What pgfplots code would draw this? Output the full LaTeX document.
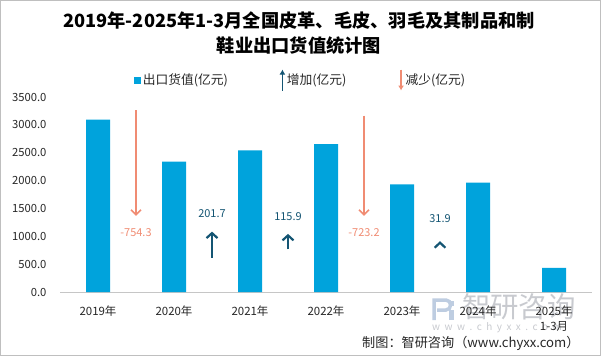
\documentclass[border=0pt]{standalone}
\usepackage{pgfplots}
\pgfplotsset{compat=1.18}
\usepackage{fontspec}
\setmainfont{Noto Sans CJK SC}
\usetikzlibrary{arrows.meta}
\definecolor{barblue}{RGB}{0,163,220}
\definecolor{upc}{RGB}{20,85,115}
\definecolor{downc}{RGB}{240,140,115}
\definecolor{wm}{RGB}{200,202,207}
\definecolor{wmlogo}{RGB}{190,205,225}
\begin{document}
\begin{tikzpicture}[x=1bp,y=1bp]
\useasboundingbox (0,0) rectangle (601,356);
\draw[gray!50, line width=1bp] (0.5,0.5) rectangle (600.5,355.5);
% watermark
\draw[wmlogo, line width=3.5bp] (434,36) -- (434,56) -- (446,56) .. controls (452,56) and (452,46) .. (446,46) -- (437,46);
\fill[wmlogo] (449,36) rectangle (454,46);
\fill[wmlogo] (449,50) rectangle (454,55);
\node[text=wm, font=\fontsize{28.5}{28}\selectfont, anchor=west, inner sep=0pt] at (462,49) {智研咨询};
\node[text=wm, font=\fontsize{10}{10}\selectfont, anchor=west, inner sep=0pt] at (432,28) {w\ \ w\ \ w\ \ .\ \ c\ \ h\ \ y\ \ x\ \ x\ \ .\ \ c\ \ o\ \ m};
% title
\node[align=center, font=\bfseries\fontsize{18.3}{25}\selectfont] at (299,323) {2019年-2025年1-3月全国皮革、毛皮、羽毛及其制品和制\\鞋业出口货值统计图};
% footer
\node[anchor=east, font=\fontsize{13.2}{13}\selectfont, text=black!85] at (583,13) {制图：智研咨询（www.chyxx.com）};
\begin{axis}[
  at={(60bp,64bp)}, anchor=south west,
  scale only axis, width=532bp, height=195bp,
  xmin=-0.5, xmax=6.5, ymin=0, ymax=3500,
  axis lines*=left,
  y axis line style={draw=none},
  x axis line style={draw=gray!45, line width=1bp},
  major tick length=0pt,
  xtick={0,1,2,3,4,5,6},
  xticklabels={2019年,2020年,2021年,2022年,2023年,2024年,{2025年\\1-3月}},
  xticklabel style={align=center, font=\fontsize{11.5}{15}\selectfont, text=black!85, yshift=-10bp},
  ytick={0,500,1000,1500,2000,2500,3000,3500},
  yticklabel style={font=\fontsize{11.3}{12}\selectfont, text=black!85, xshift=-10bp,
    /pgf/number format/.cd, fixed, fixed zerofill, precision=1, 1000 sep={}},
  /pgf/number format/assume math mode=true,
  legend columns=3,
  legend style={at={(0.452,1.087)}, anchor=center, draw=none, fill=none,
    font=\fontsize{12.8}{13}\selectfont, text=black!85,
    nodes={inner xsep=1.5bp},
    /tikz/every even column/.append style={column sep=50bp}},
  legend cell align=left,
  clip=false,
]
\addplot[ybar, bar width=24bp, fill=barblue, draw=none,
  legend image code/.code={\fill[barblue] (0bp,-3.5bp) rectangle (7bp,3.5bp);}]
  coordinates {(0,3093.0) (1,2338.7) (2,2540.4) (3,2656.3) (4,1933.1) (5,1965.0) (6,432.0)};
\addlegendentry{出口货值(亿元)}
\addlegendimage{legend image code/.code={\draw[upc, line width=1.5bp, -{Latex[length=5bp,width=6bp]}] (3bp,-10.5bp) -- (3bp,10.5bp);}}
\addlegendentry{增加(亿元)}
\addlegendimage{legend image code/.code={\draw[downc, line width=1.3bp, -{Latex[length=5bp,width=6bp]}] (3bp,10.5bp) -- (3bp,-10.5bp);}}
\addlegendentry{减少(亿元)}
% decrease arrows
\addplot[forget plot, downc, line width=1.6bp, -{Straight Barb[length=5bp,width=10bp]}] coordinates {(0.5,3260) (0.5,1366)};
\addplot[forget plot, downc, line width=1.6bp, -{Straight Barb[length=5bp,width=10bp]}] coordinates {(3.5,3164) (3.5,1366)};
% increase arrows
\addplot[forget plot, upc, line width=2.2bp, -{Straight Barb[length=5bp,width=11bp]}] coordinates {(1.5,611) (1.5,1084)};
\addplot[forget plot, upc, line width=2.2bp, -{Straight Barb[length=5bp,width=11bp]}] coordinates {(2.5,767) (2.5,1043)};
\addplot[forget plot, upc, line width=2.2bp] coordinates {(4.43,795) (4.5,886) (4.57,795)};
% labels
\node[text=downc, font=\fontsize{11}{12}\selectfont] at (axis cs:0.5,1066) {-754.3};
\node[text=upc, font=\fontsize{11}{12}\selectfont] at (axis cs:1.5,1402) {201.7};
\node[text=upc, font=\fontsize{11}{12}\selectfont] at (axis cs:2.5,1354) {115.9};
\node[text=downc, font=\fontsize{11}{12}\selectfont] at (axis cs:3.5,1061) {-723.2};
\node[text=upc, font=\fontsize{11}{12}\selectfont] at (axis cs:4.5,1318) {31.9};
\end{axis}
\end{tikzpicture}
\end{document}
